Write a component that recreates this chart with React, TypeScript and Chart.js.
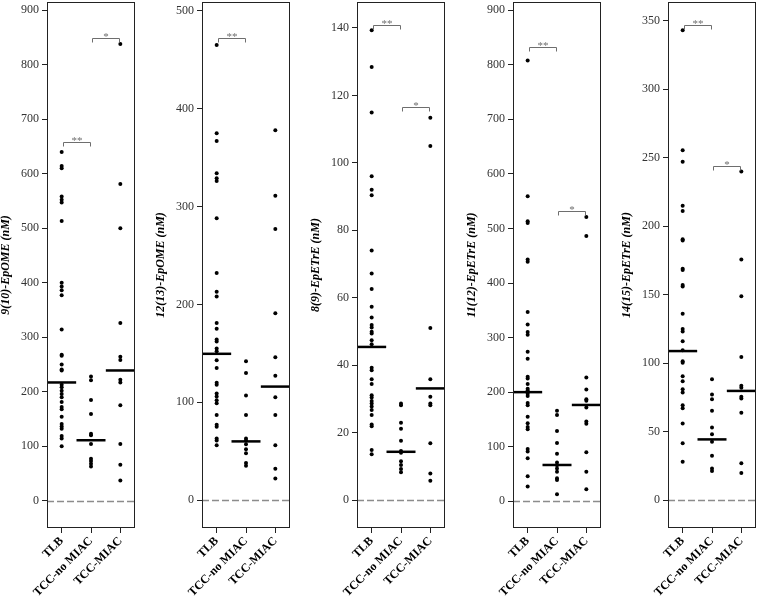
import React, { useEffect, useRef } from "react";
import { Chart, registerables } from "chart.js";

Chart.register(...registerables);

// ---------- data ----------
const categories = ["TLB", "TCC-no MIAC", "TCC-MIAC"];

// Panel 1: 9(10)-EpOME
const p1Title = "9(10)-EpOME (nM)";
const p1TLB = [640, 614, 610, 558, 552, 547, 513, 400, 393, 386, 377, 314, 268, 266, 250, 241, 239, 213, 208, 202, 196, 190, 181, 172, 168, 154, 141, 136, 132, 119, 114, 100];
const p1NoMIAC = [228, 221, 185, 159, 123, 120, 104, 77, 73, 68, 63];
const p1MIAC = [838, 581, 500, 326, 264, 258, 222, 217, 175, 104, 66, 37];
const p1Medians = [217, 111, 239];
const p1Ticks = [0, 100, 200, 300, 400, 500, 600, 700, 800, 900];
const p1Range = [-50, 915];
const p1Brackets = [
  { from: 0, to: 1, y: 658, label: "**" },
  { from: 1, to: 2, y: 849, label: "*" },
];

// Panel 2: 12(13)-EpOME
const p2Title = "12(13)-EpOME (nM)";
const p2TLB = [465, 375, 367, 334, 329, 326, 288, 232, 213, 208, 181, 175, 164, 162, 155, 152, 143, 135, 120, 118, 109, 106, 102, 99, 87, 77, 75, 63, 61, 56];
const p2NoMIAC = [142, 130, 107, 87, 63, 61, 57, 52, 48, 38, 35];
const p2MIAC = [378, 311, 277, 191, 146, 127, 105, 87, 56, 32, 22];
const p2Medians = [149.5, 60, 116];
const p2Ticks = [0, 100, 200, 300, 400, 500];
const p2Range = [-28.5, 509];
const p2Brackets = [{ from: 0, to: 1, y: 472.5, label: "**" }];

// Panel 3: 8(9)-EpETrE
const p3Title = "8(9)-EpETrE (nM)";
const p3TLB = [139.3, 128.4, 114.9, 96, 92, 90.4, 74, 67.2, 62.6, 57.3, 54.1, 51.9, 51.2, 49.9, 49.4, 47.4, 46.2, 39.2, 38.5, 35.8, 34.4, 31.1, 30.4, 29.4, 28.6, 27.7, 26.7, 25.2, 22.4, 21.9, 14.8, 13.6];
const p3NoMIAC = [28.6, 28.1, 22.9, 21.1, 17.6, 14.5, 14, 11.5, 10.4, 9.2, 8.2];
const p3MIAC = [113.4, 105, 51, 35.8, 30.6, 28.6, 28.1, 16.8, 7.9, 5.7];
const p3Medians = [45.4, 14.3, 33.1];
const p3Ticks = [0, 20, 40, 60, 80, 100, 120, 140];
const p3Range = [-8.3, 147.7];
const p3Brackets = [
  { from: 0, to: 1, y: 140.9, label: "**" },
  { from: 1, to: 2, y: 116.5, label: "*" },
];

// Panel 4: 11(12)-EpETrE
const p4Title = "11(12)-EpETrE (nM)";
const p4TLB = [808, 559, 513, 510, 443, 439, 347, 324, 310, 305, 274, 261, 228, 225, 215, 206, 203, 197, 193, 180, 176, 155, 143, 136, 132, 96, 91, 79, 46, 27];
const p4NoMIAC = [166, 158, 129, 107, 87, 71, 66, 60, 54, 42, 39, 13];
const p4MIAC = [521, 486, 227, 205, 187, 184, 172, 146, 142, 90, 54, 22];
const p4Medians = [200, 66.5, 176.5];
const p4Ticks = [0, 100, 200, 300, 400, 500, 600, 700, 800, 900];
const p4Range = [-49, 915];
const p4Brackets = [
  { from: 0, to: 1, y: 833, label: "**" },
  { from: 1, to: 2, y: 532, label: "*" },
];

// Panel 5: 14(15)-EpETrE
const p5Title = "14(15)-EpETrE (nM)";
const p5TLB = [343, 255.5, 247, 215, 211, 190.4, 189.6, 169, 168, 157, 156, 136, 125, 123, 116, 109.4, 101.4, 100.2, 90.4, 86.8, 81, 78.5, 69.3, 67, 56, 41.4, 28];
const p5NoMIAC = [88.3, 77, 73.7, 65.2, 53, 48, 42.5, 32.3, 23, 21.2];
const p5MIAC = [240, 175.6, 148.8, 104.5, 83.4, 82, 75.4, 74.2, 63.7, 26.8, 19.7];
const p5Medians = [108.8, 44.3, 79.7];
const p5Ticks = [0, 50, 100, 150, 200, 250, 300, 350];
const p5Range = [-20.4, 363.7];
const p5Brackets = [
  { from: 0, to: 1, y: 347, label: "**" },
  { from: 1, to: 2, y: 244.3, label: "*" },
];

const panels = [
  { title: p1Title, groups: [p1TLB, p1NoMIAC, p1MIAC], medians: p1Medians, ticks: p1Ticks, range: p1Range, brackets: p1Brackets },
  { title: p2Title, groups: [p2TLB, p2NoMIAC, p2MIAC], medians: p2Medians, ticks: p2Ticks, range: p2Range, brackets: p2Brackets },
  { title: p3Title, groups: [p3TLB, p3NoMIAC, p3MIAC], medians: p3Medians, ticks: p3Ticks, range: p3Range, brackets: p3Brackets },
  { title: p4Title, groups: [p4TLB, p4NoMIAC, p4MIAC], medians: p4Medians, ticks: p4Ticks, range: p4Range, brackets: p4Brackets },
  { title: p5Title, groups: [p5TLB, p5NoMIAC, p5MIAC], medians: p5Medians, ticks: p5Ticks, range: p5Range, brackets: p5Brackets },
];

// ---------- layout ----------
const BOX_LEFTS = [47, 202, 357, 513, 668];
const AXIS_W = 48;
const BOX_W = 88;
const CANVAS_W = AXIS_W + BOX_W + 2;
const CANVAS_H = 599;
const XAXIS_H = 71;
const SERIF = "'Liberation Serif', 'Times New Roman', serif";

const decorPlugin = {
  id: "decor",
  beforeDatasetsDraw(chart: any) {
    const { ctx, chartArea: a, scales } = chart;
    const y0 = Math.round(scales.y.getPixelForValue(0)) + 0.5;
    ctx.save();
    ctx.strokeStyle = "#8c8c8c";
    ctx.lineWidth = 1.5;
    ctx.setLineDash([7, 3]);
    ctx.beginPath();
    ctx.moveTo(a.left, y0);
    ctx.lineTo(a.right, y0);
    ctx.stroke();
    ctx.restore();
  },
  afterDatasetsDraw(chart: any, _args: any, opts: any) {
    const { ctx, chartArea: a, scales } = chart;
    ctx.save();
    ctx.strokeStyle = "#222";
    ctx.lineWidth = 1;
    ctx.strokeRect(a.left + 0.5, a.top + 0.5, a.right - a.left - 1, a.bottom - a.top - 1);
    const brackets = opts.brackets || [];
    ctx.strokeStyle = "#6e6e6e";
    ctx.fillStyle = "#6e6e6e";
    ctx.font = `11px ${SERIF}`;
    ctx.textAlign = "center";
    ctx.textBaseline = "alphabetic";
    for (const b of brackets) {
      const x1 = Math.round(scales.x.getPixelForValue(b.from) + 1) + 0.5;
      const x2 = Math.round(scales.x.getPixelForValue(b.to) - 1) + 0.5;
      const y = Math.round(scales.y.getPixelForValue(b.y)) + 0.5;
      ctx.beginPath();
      ctx.moveTo(x1, y + 4);
      ctx.lineTo(x1, y);
      ctx.lineTo(x2, y);
      ctx.lineTo(x2, y + 4);
      ctx.stroke();
      ctx.fillText(b.label, (x1 + x2) / 2, y + 1);
    }
    ctx.restore();
  },
};

function Panel({ cfg, left }: { cfg: any; left: number }) {
  const ref = useRef<HTMLCanvasElement>(null);
  useEffect(() => {
    const datasets: any[] = cfg.groups.map((vals: number[], i: number) => ({
      type: "scatter",
      data: vals.map((v) => ({ x: categories[i], y: v })),
      pointRadius: 2,
      pointBackgroundColor: "#000",
      pointBorderWidth: 0,
      borderColor: "#000",
      showLine: false,
    }));
    datasets.push({
      type: "scatter",
      data: cfg.medians.map((m: number, i: number) => ({ x: categories[i], y: m })),
      pointStyle: "line",
      pointRadius: 14.5,
      pointBorderWidth: 2.5,
      pointBorderColor: "#000",
      borderColor: "#000",
      showLine: false,
    });
    const chart = new Chart(ref.current as HTMLCanvasElement, {
      type: "scatter",
      data: { labels: categories, datasets },
      options: {
        animation: false,
        responsive: false,
        events: [],
        layout: { autoPadding: false, padding: { top: 2, right: 2, left: 0, bottom: 0 } },
        plugins: {
          legend: { display: false },
          tooltip: { enabled: false },
          decor: { brackets: cfg.brackets },
        } as any,
        scales: {
          x: {
            type: "category",
            labels: categories,
            offset: true,
            border: { display: false },
            grid: { drawOnChartArea: false, drawTicks: true, tickLength: 5, color: "#222", offset: false },
            ticks: {
              autoSkip: false,
              minRotation: 45,
              maxRotation: 45,
              padding: 1,
              color: "#000",
              font: { family: SERIF, size: 12, weight: "bold" },
            },
            afterFit: (s: any) => {
              s.height = XAXIS_H;
              s.paddingLeft = 0;
              s.paddingRight = 0;
            },
          },
          y: {
            type: "linear",
            min: cfg.range[0],
            max: cfg.range[1],
            border: { display: false },
            grid: { drawOnChartArea: false, drawTicks: true, tickLength: 5, color: "#222" },
            ticks: {
              padding: 3,
              color: "#333",
              font: { family: SERIF, size: 12 },
            },
            afterBuildTicks: (s: any) => {
              s.ticks = cfg.ticks.map((v: number) => ({ value: v }));
            },
            afterFit: (s: any) => {
              s.width = AXIS_W;
              s.paddingTop = 0;
              s.paddingBottom = 0;
            },
            title: {
              display: true,
              text: cfg.title,
              color: "#000",
              padding: 0,
              font: { family: SERIF, size: 12, weight: "bold", style: "italic" },
            },
          },
        },
      } as any,
      plugins: [decorPlugin as any],
    });
    return () => chart.destroy();
  }, [cfg]);
  return (
    <canvas
      ref={ref}
      width={CANVAS_W}
      height={CANVAS_H}
      style={{ position: "absolute", left, top: 0, width: CANVAS_W, height: CANVAS_H }}
    />
  );
}

export default function App() {
  return (
    <div
      style={{
        position: "absolute",
        left: 0,
        top: 0,
        width: 757,
        height: 599,
        overflow: "hidden",
        background: "#fff",
      }}
    >
      {panels.map((p, i) => (
        <Panel key={i} cfg={p} left={BOX_LEFTS[i] - AXIS_W} />
      ))}
    </div>
  );
}
